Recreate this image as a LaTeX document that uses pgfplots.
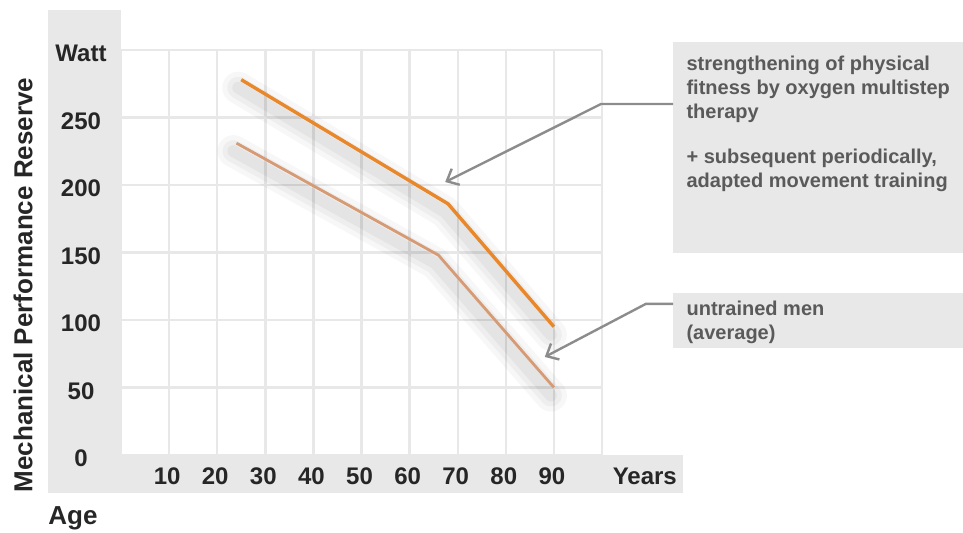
\documentclass[border=0pt]{standalone}
\usepackage{pgfplots}
\pgfplotsset{compat=1.18}
\usepackage{pgfplotstable}
\usepackage{fontspec}
\setmainfont{Liberation Sans}
\usetikzlibrary{arrows.meta}

\definecolor{panel}{HTML}{E8E8E8}
\definecolor{gridc}{HTML}{E8E8E8}
\definecolor{trained}{HTML}{E8882A}
\definecolor{untrained}{HTML}{D69B74}
\definecolor{arrowc}{HTML}{8C8C8C}
\definecolor{notec}{HTML}{5A5A5A}

% age (years), reserve (watt)
\pgfplotstableread{
x y
25 278
68 186
90 95
}\trained
\pgfplotstableread{
x y
24 231
66 148
90 50
}\untrained

\pgfplotsset{
  shadow/.style={black, opacity=#1, transform canvas={shift={(-1.5pt,-4pt)}}, line join=round, line cap=round},
}

\begin{document}
\begin{tikzpicture}
% gray L-shaped panel (axis box starts at the origin, 2.405pt per year, 0.675pt per watt)
\fill[panel] (-36.56pt,-18.97pt) rectangle (0pt,222.5pt);
\fill[panel] (-36.56pt,-18.97pt) rectangle (280.9pt,0pt);
\begin{axis}[
  scale only axis,
  width=240.5pt, height=202.5pt,
  xmin=0, xmax=100, ymin=0, ymax=300,
  clip=false,
  axis line style={draw=none},
  tick style={draw=none},
  grid=major,
  major grid style={gridc, line width=1.2pt},
  xtick={0,10,...,100},
  xticklabels={{},10,20,30,40,50,60,70,80,90,{}},
  ytick={0,50,...,300},
  yticklabels={0,50,100,150,200,250,Watt},
  ticklabel style={font=\fontsize{12}{14}\selectfont\bfseries, text=black!85},
  xticklabel style={anchor=center, yshift=-10.5pt, xshift=-1pt},
  yticklabel style={anchor=center, xshift=-20pt, yshift=-1.8pt},
]
% fixed page size
\path (axis cs:-25.16,-57.78) rectangle (axis cs:175.05,337.04);

% soft shadows
\addplot[shadow=0.03, line width=16pt] table {\trained};
\addplot[shadow=0.03, line width=16pt] table {\untrained};
\addplot[shadow=0.035, line width=11pt] table {\trained};
\addplot[shadow=0.035, line width=11pt] table {\untrained};
\addplot[shadow=0.045, line width=6pt] table {\trained};
\addplot[shadow=0.045, line width=6pt] table {\untrained};

\addplot[untrained, line width=1.4pt] table {\untrained};
\addplot[trained, line width=1.7pt] table {\trained};

% notes
\fill[panel] (axis cs:114.8,149.6) rectangle (axis cs:175.05,305.9);
\fill[panel] (axis cs:114.8,79.3) rectangle (axis cs:175.05,120);
\node[anchor=north west, inner sep=0pt, align=left, text=notec,
  font=\fontsize{10}{12}\selectfont\bfseries] at (axis cs:117.5,295.9)
  {strengthening of physical\\fitness by oxygen multistep\\therapy\\[10.5pt]+ subsequent periodically,\\adapted movement training};
\node[anchor=north west, inner sep=0pt, align=left, text=notec,
  font=\fontsize{10}{12}\selectfont\bfseries] at (axis cs:117.5,114.5)
  {untrained men\\(average)};
\draw[arrowc, line width=1.2pt, -{Straight Barb[length=5pt,width=9pt]}]
  (axis cs:114.8,260) -- (axis cs:99.8,260) -- (axis cs:67.4,202.2);
\draw[arrowc, line width=1.2pt, -{Straight Barb[length=5pt,width=9pt]}]
  (axis cs:114.8,111.9) -- (axis cs:109.1,111.9) -- (axis cs:88.1,72.6);

% axis texts
\node[font=\fontsize{12}{14}\selectfont\bfseries, text=black!85] at (axis cs:108.9,-15.6) {Years};
\node[anchor=base west, inner sep=0pt, font=\fontsize{13}{15}\selectfont\bfseries, text=black!85] at (axis cs:-15.18,-51.85) {Age};
\node[rotate=90, inner sep=0pt, font=\fontsize{13}{15}\selectfont\bfseries, text=black!85] at (axis cs:-20.37,125.9) {Mechanical Performance Reserve};
\end{axis}
\end{tikzpicture}
\end{document}
